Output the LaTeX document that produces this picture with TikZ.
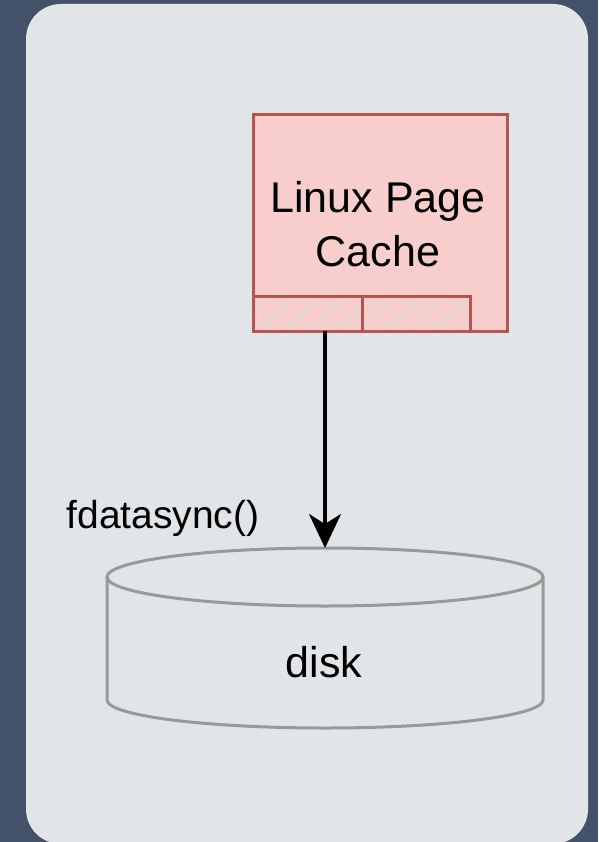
\documentclass[tikz,border=0pt]{standalone}
\usepackage{fontspec}
\setmainfont{Liberation Sans}
\usetikzlibrary{arrows.meta}
\definecolor{backdrop}{HTML}{435268}
\definecolor{panel}{HTML}{E2E5E8}
\definecolor{cachefill}{HTML}{F8CECC}
\definecolor{cachestroke}{HTML}{B85450}
\definecolor{hatch}{HTML}{DCD6D6}
\definecolor{diskstroke}{HTML}{999999}
\begin{document}
\begin{tikzpicture}[x=1pt,y=-1pt,
  cachebox/.style={draw=cachestroke,fill=cachefill,line width=3pt},
  pagebox/.style={draw=cachestroke,line width=3pt},
  diskline/.style={draw=diskstroke,line width=3pt},
  label/.style={font=\fontsize{43}{54}\selectfont,text=black,inner sep=0pt},
  flowarrow/.style={line width=3.4pt,-{Stealth[length=34pt,width=32pt,inset=10pt]}}]
% page and panel
\fill[backdrop] (0,0) rectangle (598,842);
\useasboundingbox (0,0) rectangle (598,842);
\fill[panel,rounded corners=35pt] (26,4) rectangle (588,844);

% page cache box
\draw[cachebox] (253,115) rectangle (507,331);
\node[label,align=center] (cache) at (378,224) {Linux Page\\Cache};

% two hatched pages at the bottom of the cache
\begin{scope}
  \clip (253,296) rectangle (470,331);
  \foreach \k in {0,...,12} {
    \draw[hatch,line width=2pt] ({230+25*\k},336) -- ({230+25*\k+45},291);
  }
\end{scope}
\draw[pagebox] (253,296) rectangle (362,331);
\draw[pagebox] (362,296) rectangle (470,331);
\coordinate (cachebottom) at (325,331);

% disk cylinder
\draw[diskline] (107,577) -- (107,700)
  arc[start angle=180,end angle=0,x radius=218,y radius=28] -- (543,577);
\draw[diskline] (325,577) ellipse[x radius=218,y radius=29];
\coordinate (disktop) at (325,548);
\node[label] (disk) at (324,662) {disk};

% sync arrow
\draw[flowarrow] (cachebottom) -- (disktop);
\node[label,font=\fontsize{39}{48}\selectfont] (sync) at (163,518) {fdatasync()};
\end{tikzpicture}
\end{document}
